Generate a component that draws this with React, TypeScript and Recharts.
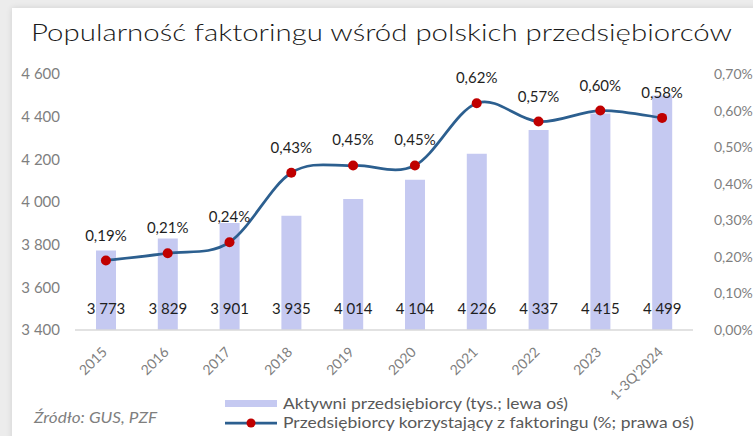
import { Bar, ComposedChart, LabelList, Line, XAxis, YAxis } from "recharts";

const YEARS = ["2015", "2016", "2017", "2018", "2019", "2020", "2021", "2022", "2023", "1-3Q'2024"];
const ACTIVE_FIRMS = [3773, 3829, 3901, 3935, 4014, 4104, 4226, 4337, 4415, 4499];
const FACTORING_SHARE = [0.19, 0.21, 0.24, 0.43, 0.45, 0.45, 0.62, 0.57, 0.6, 0.58];
const LEFT_TICKS = [3400, 3600, 3800, 4000, 4200, 4400, 4600];
const RIGHT_TICKS = [0, 0.1, 0.2, 0.3, 0.4, 0.5, 0.6, 0.7];

const FONT = "Lato, 'Open Sans', sans-serif";
const BAR_COLOR = "#C5C9F1";
const LINE_COLOR = "#2C5F8F";
const DOT_COLOR = "#C00000";
const AXIS_TEXT = "#7F7F7F";

const data = YEARS.map((year, i) => ({
  year,
  firms: ACTIVE_FIRMS[i],
  share: FACTORING_SHARE[i],
}));

function formatThousands(value: number) {
  return String(value).replace(/\B(?=(\d{3})+(?!\d))/g, " ");
}

function formatShare(value: number) {
  return `${Number(value).toFixed(2).replace(".", ",")}%`;
}

// Excel-like smoothed line (Catmull-Rom through the points)
function excelCurve(context: any) {
  let pts: number[][] = [];
  return {
    areaStart() {},
    areaEnd() {},
    lineStart() {
      pts = [];
    },
    point(x: number, y: number) {
      pts.push([+x, +y]);
    },
    lineEnd() {
      if (!pts.length) return;
      context.moveTo(pts[0][0], pts[0][1]);
      for (let i = 0; i < pts.length - 1; i++) {
        const p0 = pts[Math.max(i - 1, 0)];
        const p1 = pts[i];
        const p2 = pts[i + 1];
        const p3 = pts[Math.min(i + 2, pts.length - 1)];
        context.bezierCurveTo(
          p1[0] + (p2[0] - p0[0]) / 6,
          p1[1] + (p2[1] - p0[1]) / 6,
          p2[0] - (p3[0] - p1[0]) / 6,
          p2[1] - (p3[1] - p1[1]) / 6,
          p2[0],
          p2[1],
        );
      }
    },
  };
}

function YearTick({ x, y, payload }: any) {
  const tx = x + 2;
  const ty = y + 23;
  return (
    <text
      x={tx}
      y={ty}
      textAnchor="end"
      fill={AXIS_TEXT}
      fontSize={14}
      fontFamily={FONT}
      transform={`rotate(-45, ${tx}, ${ty})`}
    >
      {payload.value}
    </text>
  );
}

function BarValueLabel({ x, y, width, height, value }: any) {
  return (
    <text
      x={x + width / 2}
      y={y + height - 16}
      textAnchor="middle"
      fill="#1F1F1F"
      fontSize={15}
      fontFamily={FONT}
    >
      {formatThousands(value)}
    </text>
  );
}

function RedDot({ cx, cy }: any) {
  return <circle cx={cx} cy={cy} r={5} fill={DOT_COLOR} />;
}

export default function App() {
  return (
    <div style={{ position: "absolute", left: 0, top: 0, width: 753, height: 436, background: "#ececec", overflow: "hidden" }}>
      <div
        style={{
          position: "absolute",
          left: 12,
          top: 8,
          width: 760,
          height: 440,
          background: "#ffffff",
          boxShadow: "0 0 6px rgba(0,0,0,0.12)",
        }}
      />
      <div style={{ position: "absolute", left: 0, top: 0 }}>
        <ComposedChart
          width={753}
          height={436}
          data={data}
          margin={{ top: 74, right: 0, bottom: 76, left: 0 }}
          barSize={20}
        >
          <XAxis
            dataKey="year"
            height={30}
            tickLine={false}
            tickSize={0}
            tickMargin={0}
            interval={0}
            axisLine={{ stroke: "#D9D9D9", strokeWidth: 1.5 }}
            tick={<YearTick />}
          />
          <YAxis
            yAxisId="left"
            width={75}
            domain={[3400, 4600]}
            ticks={LEFT_TICKS}
            axisLine={false}
            tickLine={false}
            tickSize={0}
            tickMargin={15}
            tickFormatter={(v) => formatThousands(Number(v))}
            tick={{ fill: AXIS_TEXT, fontSize: 15, fontFamily: FONT }}
          />
          <YAxis
            yAxisId="right"
            orientation="right"
            width={60}
            domain={[0, 0.7]}
            ticks={RIGHT_TICKS}
            axisLine={false}
            tickLine={false}
            tickSize={0}
            tickMargin={21}
            tickFormatter={(v) => formatShare(Number(v))}
            tick={{ fill: AXIS_TEXT, fontSize: 14, fontFamily: FONT, textAnchor: "start" }}
          />
          <Bar yAxisId="left" dataKey="firms" fill={BAR_COLOR} isAnimationActive={false}>
            <LabelList dataKey="firms" content={<BarValueLabel />} />
          </Bar>
          <Line
            yAxisId="right"
            dataKey="share"
            type={excelCurve as any}
            stroke={LINE_COLOR}
            strokeWidth={2.75}
            dot={<RedDot />}
            activeDot={false}
            isAnimationActive={false}
          >
            <LabelList
              dataKey="share"
              position="top"
              offset={20}
              formatter={(v: any) => formatShare(Number(v))}
              fill="#1F1F1F"
              fontSize={15}
              fontFamily={FONT}
            />
          </Line>
        </ComposedChart>
      </div>
      <svg
        width={753}
        height={436}
        style={{ position: "absolute", left: 0, top: 0, pointerEvents: "none" }}
      >
        <text
          x={31}
          y={41}
          fontSize={24}
          fontWeight={300}
          fontFamily={FONT}
          fill="#1A1A1A"
          textLength={701}
          lengthAdjust="spacingAndGlyphs"
        >
          Popularność faktoringu wśród polskich przedsiębiorców
        </text>
        <text
          x={34}
          y={423}
          fontSize={15}
          fontStyle="italic"
          fontFamily={FONT}
          fill={AXIS_TEXT}
          textLength={123}
          lengthAdjust="spacingAndGlyphs"
        >
          Źródło: GUS, PZF
        </text>
        <rect x={225} y={400} width={52} height={7} fill={BAR_COLOR} />
        <text
          x={283}
          y={409}
          fontSize={16}
          fontFamily={FONT}
          fill="#595959"
          textLength={285}
          lengthAdjust="spacingAndGlyphs"
        >
          Aktywni przedsiębiorcy (tys.; lewa oś)
        </text>
        <line x1={225} y1={423} x2={277} y2={423} stroke={LINE_COLOR} strokeWidth={2.75} />
        <circle cx={251} cy={423} r={4.5} fill={DOT_COLOR} />
        <text
          x={283}
          y={428}
          fontSize={16}
          fontFamily={FONT}
          fill="#595959"
          textLength={411}
          lengthAdjust="spacingAndGlyphs"
        >
          Przedsiębiorcy korzystający z faktoringu (%; prawa oś)
        </text>
      </svg>
    </div>
  );
}
